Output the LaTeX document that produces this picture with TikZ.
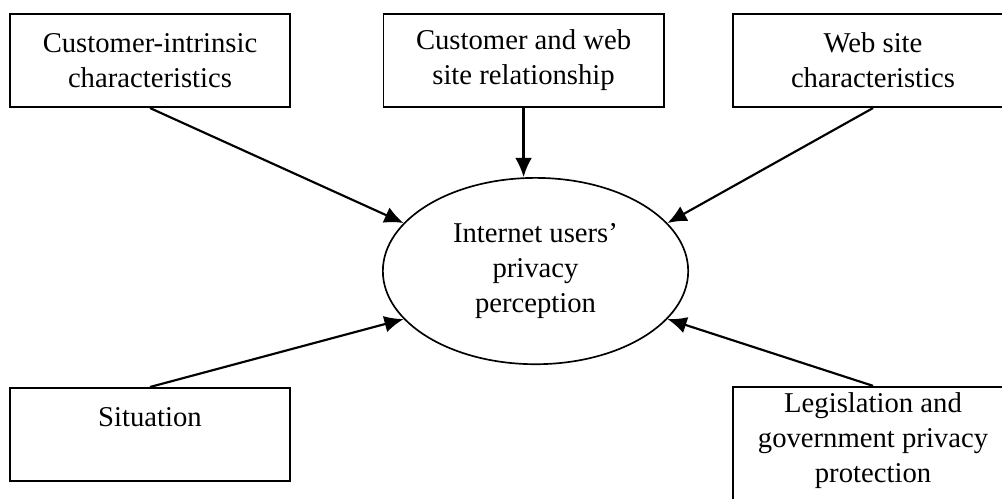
\documentclass[tikz,border=0pt]{standalone}
\usepackage{fontspec}
\setmainfont{Liberation Serif}
\usetikzlibrary{shapes.geometric,arrows.meta}

\tikzset{
    factor/.style={draw, line width=0.8pt, minimum width=4.12cm, minimum height=1.37cm, align=center, font=\fontsize{12}{14.6}\selectfont},
    link/.style={->, >={Latex[length=8pt,width=7pt]}, line width=0.9pt},
}

\begin{document}
\begin{tikzpicture}
        \useasboundingbox (0,0) rectangle (14.735,7.324);
        \clip (0,0) rectangle (14.735,7.324);
        % the five factors
        \node[factor] (intrinsic) at (2.206,6.434) {Customer-intrinsic\\characteristics};
        \node[factor] (relation) at (7.699,6.434) {Customer and web\\site relationship};
        \node[factor] (website) at (12.838,6.434) {Web site\\characteristics};
        \node[factor] (situation) at (2.206,0.934) {Situation\\\mbox{}};
        \node[factor, anchor=north, minimum height=0pt, inner ysep=2.5pt, text depth=12pt] (legis) at (12.838,1.65) {Legislation and\\government privacy\\protection};
        % perception
        \node[draw, ellipse, line width=0.7pt, minimum width=4.49cm, minimum height=2.74cm, align=center, font=\fontsize{12}{14.6}\selectfont] (percept) at (7.875,3.338) {Internet users'\\privacy\\perception};
        \draw[link] (intrinsic.south) -- (percept.160);
        \draw[link] (relation.south) -- (relation.south |- percept.north);
        \draw[link] (website.south) -- (percept.20);
        \draw[link] (situation.north) -- (percept.200);
        \draw[link] (legis.north) -- (percept.340);
\end{tikzpicture}
\end{document}
